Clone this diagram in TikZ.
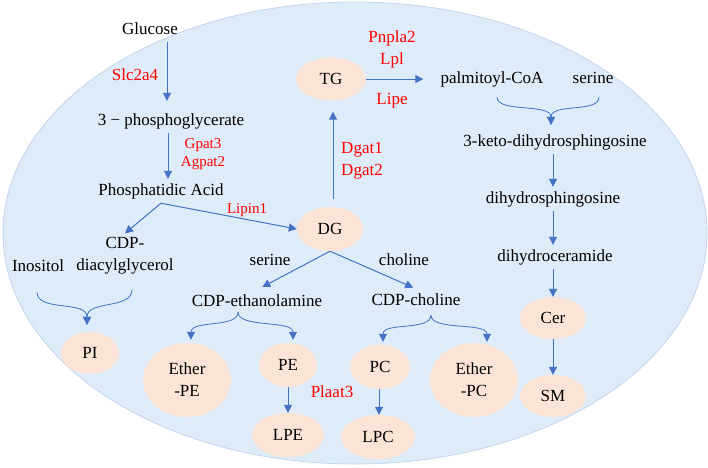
\documentclass[tikz,border=0pt]{standalone}
\usepackage{fontspec}
\setmainfont{Liberation Serif}
\usepackage{tikz}
\usetikzlibrary{shapes.geometric, arrows.meta, positioning, calc}
\definecolor{cellblue}{RGB}{222, 235, 248}
\definecolor{celledge}{RGB}{196, 213, 238}
\definecolor{lipidpeach}{RGB}{251, 228, 213}
\definecolor{arrowblue}{RGB}{68, 114, 196}
\definecolor{enzymered}{RGB}{255, 0, 0}

\begin{document}
\begin{tikzpicture}[
        x=1pt, y=-1pt,
        font=\fontsize{17}{22}\selectfont,
        met/.style={inner xsep=3pt, inner ysep=4pt, text height=12pt, text depth=4pt},
        lipid/.style={ellipse, fill=lipidpeach, inner sep=0pt, minimum width=66pt, minimum height=44pt, align=center},
        biglipid/.style={lipid, minimum width=88pt, minimum height=74pt},
        enzyme/.style={text=enzymered, align=center, inner sep=1pt},
        smallenzyme/.style={enzyme, font=\fontsize{15}{18}\selectfont},
        arrow/.style={-{Triangle[length=8pt, width=8pt]}, line width=1pt, arrowblue},
        branch/.style={-{Triangle[length=8pt, width=8pt]}, line width=0.8pt, arrowblue}
    ]
    \useasboundingbox (0,0) rectangle (708,467);
    \fill[cellblue, draw=celledge, line width=0.8pt] (355,233) ellipse [x radius=352, y radius=231];

    % glycerolipid side
    \node[met] (glucose) at (150,30) {Glucose};
    \node[met] (pga) at (171,121) {3 − phosphoglycerate};
    \node[met] (pa) at (161,191) {Phosphatidic Acid};
    \node[align=center, inner xsep=3pt, inner ysep=4pt] (cdpdag) at (125,256) {CDP-\\diacylglycerol};
    \node[met] (inositol) at (38,267) {Inositol};
    \node[lipid, minimum width=58pt, minimum height=42pt] (pi) at (90,353) {PI};
    \node[lipid] (dg) at (330,229) {DG};
    \node[lipid, minimum width=70pt, minimum height=43pt] (tg) at (331,79) {TG};
    \node[met] (serinedg) at (270,261) {serine};
    \node[met] (cholinedg) at (404,261) {choline};
    \node[met] (cdpe) at (257,302) {CDP-ethanolamine};
    \node[met] (cdpc) at (416,301) {CDP-choline};
    \node[biglipid] (etherpe) at (187,380) {Ether\\-PE};
    \node[lipid, minimum width=58pt] (pe) at (288,365) {PE};
    \node[lipid, minimum width=72pt] (lpe) at (288,435) {LPE};
    \node[lipid, minimum width=60pt] (pc) at (380,367) {PC};
    \node[lipid, minimum width=74pt] (lpc) at (378,437) {LPC};
    \node[biglipid] (etherpc) at (474,380) {Ether\\-PC};

    % sphingolipid side
    \node[met] (palm) at (492,79) {palmitoyl-CoA};
    \node[met] (serinesph) at (593,79) {serine};
    \node[met] (keto) at (555,142) {3-keto-dihydrosphingosine};
    \node[met] (dhsph) at (553,199) {dihydrosphingosine};
    \node[met] (dhcer) at (555,257) {dihydroceramide};
    \node[lipid, minimum height=42pt] (cer) at (553,318) {Cer};
    \node[lipid, minimum height=42pt] (sm) at (553,396) {SM};

    % enzymes
    \node[enzyme] (slc) at (135,75) {Slc2a4};
    \node[smallenzyme] (gpat) at (203,154) {Gpat3\\Agpat2};
    \node[smallenzyme] (lipin) at (247,210) {Lipin1};
    \node[enzyme] (dgat) at (362,161) {Dgat1\\Dgat2};
    \node[enzyme] (pnpla) at (392,49) {Pnpla2\\Lpl};
    \node[enzyme] (lipe) at (392,101) {Lipe};
    \node[enzyme] (plaat) at (332,392) {Plaat3};

    \draw[arrow, shorten >=8pt] ([xshift=17pt]glucose.south) -- ([xshift=-4pt]pga.north);
    \draw[arrow] ([xshift=-3pt]pga.south) -- ([xshift=7pt]pa.north);
    \draw[arrow] (pa.south) -- (cdpdag.north);
    \draw[arrow] (pa.south) -- (dg.west);
    \draw[arrow, shorten <=8pt, shorten >=11pt] ([xshift=3pt]dg.north) -- ([xshift=2pt]tg.south);
    \draw[arrow, shorten >=14pt] (tg.east) -- (palm.west);
    \draw[arrow, shorten >=6pt] (dg.south) -- (cdpe.north);
    \draw[arrow, shorten >=3pt] (dg.south) -- (cdpc.north);
    \draw[arrow] ([xshift=-2pt]keto.south) -- (dhsph.north);
    \draw[arrow] (dhsph.south) -- ([xshift=-2pt]dhcer.north);
    \draw[arrow] ([xshift=-2pt]dhcer.south) -- (cer.north);
    \draw[arrow] (cer.south) -- (sm.north);
    \draw[arrow] (pe.south) -- (lpe.north);
    \draw[arrow] ([xshift=-1pt]pc.south) -- ([xshift=1pt]lpc.north);

    % merging and splitting curves
    \draw[branch] ($(inositol.south)+(-1,13)$) .. controls +(0,20) and +(0,-25) .. ($(pi.north)+(-3,-7)$);
    \draw[branch] ($(cdpdag.south)+(7,11)$) .. controls +(0,20) and +(0,-25) .. ($(pi.north)+(-3,-7)$);
    \draw[branch] ($(palm.south)+(5,6)$) .. controls +(0,16) and +(0,-22) .. ($(keto.north)+(-4,-5)$);
    \draw[branch] ($(serinesph.south)+(6,6)$) .. controls +(0,16) and +(0,-22) .. ($(keto.north)+(-4,-5)$);
    \draw[branch] ($(cdpe.south)+(-19,-2)$) .. controls +(0,16) and +(0,-20) .. ($(etherpe.north)+(4,-3)$);
    \draw[branch] ($(cdpe.south)+(-19,-2)$) .. controls +(0,16) and +(0,-20) .. ($(pe.north)+(5,-3)$);
    \draw[branch] ($(cdpc.south)+(15,2)$) .. controls +(0,16) and +(0,-20) .. ($(pc.north)+(3,-3)$);
    \draw[branch] ($(cdpc.south)+(15,2)$) .. controls +(0,16) and +(0,-20) .. ($(etherpc.north)+(13,-1)$);
\end{tikzpicture}
\end{document}
